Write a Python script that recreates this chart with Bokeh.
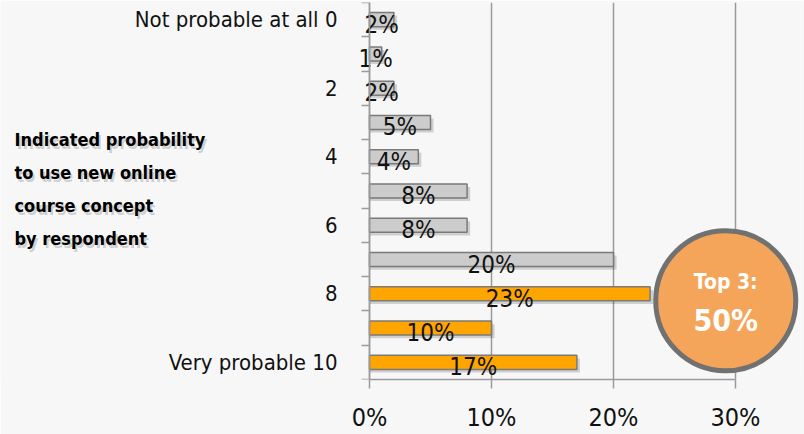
from bokeh.plotting import figure
from bokeh.models import Range1d, FixedTicker, PrintfTickFormatter, Label, ColumnDataSource
from bokeh.core.properties import value
from bokeh.embed import file_html
from bokeh.resources import INLINE

# ---- data ----
levels = [0, 1, 2, 3, 4, 5, 6, 7, 8, 9, 10]
level_labels = ["Not probable at all 0", "", "2", "", "4", "", "6", "", "8", "", "Very probable 10"]
shares = [2, 1, 2, 5, 4, 8, 8, 20, 23, 10, 17]
top3 = [False, False, False, False, False, False, False, False, True, True, True]
x_ticks = [0, 10, 20, 30]
side_text = ["Indicated probability", "to use new online", "course concept", "by respondent"]
badge_lines = ["Top 3:", "50%"]

FONT = "DejaVu Sans Condensed"
GRAY_BAR = "#cccccc"
ORANGE = "#ffa500"

colors = [ORANGE if t else GRAY_BAR for t in top3]
src = ColumnDataSource(dict(
    y=levels, v=shares, c=colors,
    mid=[s / 2 for s in shares],
    lab=[f"{s}%" for s in shares],
    sy=[l + 0.09 for l in levels],
    sv=[s + 0.25 for s in shares],
))

PX = 12.2  # pixels per percentage point
p = figure(width=804, height=434, output_backend="svg", toolbar_location=None,
           x_range=Range1d(-369 / PX, 800 / PX - 369 / PX), y_range=Range1d(10.5, -0.5),
           min_border_left=0, min_border_right=4, min_border_top=2, min_border_bottom=55)
p.background_fill_color = "#f7f7f7"
p.border_fill_color = "#f7f7f7"
p.outline_line_color = None

# shadows + bars
p.hbar(y="sy", left=0, right="sv", height=0.41, source=src,
       fill_color="#000000", fill_alpha=0.16, line_color=None)
p.hbar(y="y", left=0, right="v", height=0.41, source=src,
       fill_color="c", line_color="#7a7a7a", line_width=1.5)
p.text(x="mid", y="y", text="lab", source=src, text_align="center", text_baseline="middle",
       y_offset=5, text_font=value(FONT), text_font_size="24px", text_color="#111111")

# x axis
xa = p.xaxis[0]
xa.ticker = FixedTicker(ticks=x_ticks)
xa.formatter = PrintfTickFormatter(format="%d%%")
xa.bounds = (0, 30)
xa.axis_line_color = "#9a9a9a"
xa.axis_line_width = 1.5
xa.major_tick_line_color = "#9a9a9a"
xa.major_tick_line_width = 1.5
xa.major_tick_in = 0
xa.major_tick_out = 9
xa.minor_tick_line_color = None
xa.major_label_text_font = FONT
xa.major_label_text_font_size = "25px"
xa.major_label_text_color = "#111111"
xa.major_label_standoff = 14

# y axis, fixed at x = 0 inside the frame
ya = p.yaxis[0]
ya.fixed_location = 0
ya.ticker = FixedTicker(ticks=levels, minor_ticks=[l - 0.5 for l in levels] + [levels[-1] + 0.5])
ya.major_label_overrides = {l: t for l, t in zip(levels, level_labels)}
ya.axis_line_color = "#9a9a9a"
ya.axis_line_width = 1.5
ya.major_tick_line_color = None
ya.major_tick_in = 0
ya.major_tick_out = 0
ya.minor_tick_line_color = "#9a9a9a"
ya.minor_tick_line_width = 1.5
ya.minor_tick_in = 0
ya.minor_tick_out = 8
ya.major_label_text_font = FONT
ya.major_label_text_font_size = "22px"
ya.major_label_text_color = "#111111"
ya.major_label_standoff = 24

p.ygrid.visible = False
p.xgrid.ticker = FixedTicker(ticks=x_ticks)
p.xgrid.grid_line_color = "#9a9a9a"
p.xgrid.grid_line_width = 1.5

# badge
p.scatter(x=[29.2], y=[8.2], size=140, marker="circle", fill_color="#f5a55a",
          line_color="#717171", line_width=5)
p.text(x=[29.2, 29.2], y=[8.2, 8.2], text=badge_lines, y_offset=[-19, 20],
       text_align="center", text_baseline="middle", text_font=value(FONT),
       text_font_style="bold", text_font_size=["21px", "30px"], text_color="white")

# side text (screen units, frame starts at canvas x = 0)
for i, line in enumerate(side_text):
    for dx, dy, col, alpha in [(2, -3, "#000000", 0.18), (0, 0, "#000000", 1.0)]:
        p.add_layout(Label(x=14 + dx, y=379 - 139 - i * 33 + dy, x_units="screen", y_units="screen",
                           text=line, text_font=FONT, text_font_style="bold", text_font_size="18px",
                           text_color=col, text_alpha=alpha, text_baseline="middle"))

open("out.html", "w").write(file_html(p, INLINE))
